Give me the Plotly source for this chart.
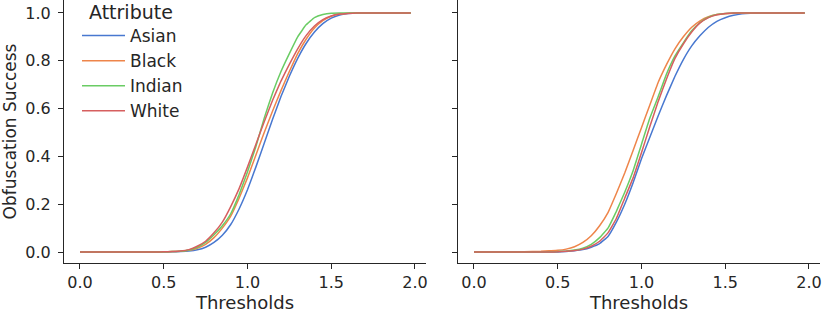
import plotly.graph_objects as go
from plotly.subplots import make_subplots

thresholds = [0.0, 0.1, 0.2, 0.3, 0.4, 0.45, 0.5, 0.55, 0.6, 0.65, 0.7, 0.75, 0.8, 0.85,
              0.9, 0.95, 1.0, 1.05, 1.1, 1.15, 1.2, 1.25, 1.3, 1.35, 1.4, 1.45, 1.5,
              1.55, 1.6, 1.65, 1.7, 1.8, 1.9, 1.975]

attributes = ['Asian', 'Black', 'Indian', 'White']
colors = ['#4878d0', '#ee854a', '#6acc64', '#d65f5f']

# left panel
left_asian = [0, 0, 0, 0, 0, 0, 0.0, 0.001, 0.002, 0.004, 0.009, 0.02, 0.04, 0.07,
              0.115, 0.18, 0.26, 0.355, 0.455, 0.555, 0.65, 0.735, 0.81, 0.872, 0.92, 0.955, 0.978,
              0.991, 0.997, 1.0, 1.0, 1.0, 1.0, 1.0]
left_black = [0, 0, 0, 0, 0, 0, 0.001, 0.002, 0.003, 0.007, 0.016, 0.032, 0.06, 0.1,
              0.15, 0.225, 0.31, 0.405, 0.5, 0.59, 0.675, 0.755, 0.83, 0.89, 0.937, 0.968, 0.986,
              0.995, 0.999, 1.0, 1.0, 1.0, 1.0, 1.0]
left_indian = [0, 0, 0, 0, 0, 0, 0.001, 0.002, 0.003, 0.008, 0.02, 0.04, 0.072, 0.11,
               0.16, 0.24, 0.335, 0.44, 0.56, 0.665, 0.755, 0.83, 0.9, 0.95, 0.98, 0.993, 0.999,
               1.0, 1.0, 1.0, 1.0, 1.0, 1.0, 1.0]
left_white = [0, 0, 0, 0, 0, 0, 0.001, 0.002, 0.004, 0.01, 0.024, 0.045, 0.08, 0.125,
              0.19, 0.265, 0.355, 0.45, 0.545, 0.635, 0.715, 0.785, 0.85, 0.905, 0.945, 0.972, 0.987,
              0.995, 0.998, 1.0, 1.0, 1.0, 1.0, 1.0]

# right panel
right_asian = [0, 0, 0, 0, 0, 0, 0.0, 0.002, 0.005, 0.01, 0.02, 0.035, 0.065, 0.125,
               0.2, 0.29, 0.39, 0.48, 0.57, 0.655, 0.735, 0.805, 0.862, 0.905, 0.94, 0.965, 0.98,
               0.99, 0.996, 0.999, 1.0, 1.0, 1.0, 1.0]
right_black = [0, 0, 0, 0.001, 0.003, 0.005, 0.007, 0.012, 0.022, 0.04, 0.068, 0.11, 0.165, 0.245,
               0.33, 0.425, 0.52, 0.615, 0.71, 0.785, 0.85, 0.9, 0.94, 0.967, 0.984, 0.993, 0.997,
               0.999, 1.0, 1.0, 1.0, 1.0, 1.0, 1.0]
right_indian = [0, 0, 0, 0, 0, 0.001, 0.002, 0.004, 0.008, 0.016, 0.032, 0.06, 0.1, 0.17,
                0.25, 0.34, 0.45, 0.56, 0.65, 0.745, 0.82, 0.875, 0.925, 0.96, 0.982, 0.993, 0.998,
                1.0, 1.0, 1.0, 1.0, 1.0, 1.0, 1.0]
right_white = [0, 0, 0, 0, 0, 0, 0.001, 0.003, 0.006, 0.012, 0.024, 0.045, 0.08, 0.14,
               0.225, 0.31, 0.415, 0.525, 0.63, 0.725, 0.81, 0.87, 0.92, 0.958, 0.98, 0.992, 0.998,
               1.0, 1.0, 1.0, 1.0, 1.0, 1.0, 1.0]

left = [left_asian, left_black, left_indian, left_white]
right = [right_asian, right_black, right_indian, right_white]

fig = make_subplots(rows=1, cols=2, shared_yaxes=True)

for i, name in enumerate(attributes):
    fig.add_trace(go.Scatter(x=thresholds, y=left[i], name=name, mode='lines',
                             line=dict(color=colors[i], width=1.5, shape='spline', smoothing=0.3)),
                  row=1, col=1)
    fig.add_trace(go.Scatter(x=thresholds, y=right[i], name=name, mode='lines', showlegend=False,
                             line=dict(color=colors[i], width=1.5, shape='spline', smoothing=0.3)),
                  row=1, col=2)

dark = '#262626'
axis_style = dict(showline=True, linecolor=dark, linewidth=1.25, ticks='outside', ticklen=5,
                  tickwidth=1.25, tickcolor=dark, showgrid=False, zeroline=False, automargin=False,
                  tickfont=dict(size=16, color=dark))

fig.update_xaxes(range=[-0.0955, 2.066], tickvals=[0, 0.5, 1.0, 1.5, 2.0], tickformat='.1f',
                 title=dict(text='Thresholds', font=dict(size=18, color=dark), standoff=4),
                 **axis_style)
fig.update_yaxes(range=[-0.046, 1.054], tickvals=[0, 0.2, 0.4, 0.6, 0.8, 1.0], tickformat='.1f',
                 ticklabelstandoff=4, **axis_style)
fig.update_yaxes(title=dict(text='Obfuscation Success', font=dict(size=17, color=dark), standoff=4),
                 row=1, col=1)
fig.update_yaxes(showticklabels=False, row=1, col=2)

fig.update_layout(
    width=831, height=320,
    margin=dict(l=0, r=0, t=0, b=0),
    plot_bgcolor='white', paper_bgcolor='white',
    font=dict(family='DejaVu Sans', color=dark),
    xaxis=dict(domain=[64/831, 426/831]),
    xaxis2=dict(domain=[458/831, 820/831]),
    yaxis=dict(domain=[1 - 263/320, 1.0]),
    yaxis2=dict(domain=[1 - 263/320, 1.0]),
    legend=dict(x=77/831, y=1 - 18/320, xanchor='left', yanchor='top', bgcolor='rgba(255,255,255,0)',
                itemwidth=43, font=dict(size=17, color=dark)),
    # legend heading, kept as an annotation so it can sit as high as in the original
    annotations=[dict(text='Attribute', xref='paper', yref='paper', x=131/831, y=1.0,
                      xanchor='center', yanchor='top', showarrow=False, borderpad=0,
                      font=dict(size=19, color=dark))]
)

# drop the browser's default page margin so the figure sits at the window corner
fig.write_html('out.html', config={'displayModeBar': False},
               post_script="document.body.style.margin='0';")
